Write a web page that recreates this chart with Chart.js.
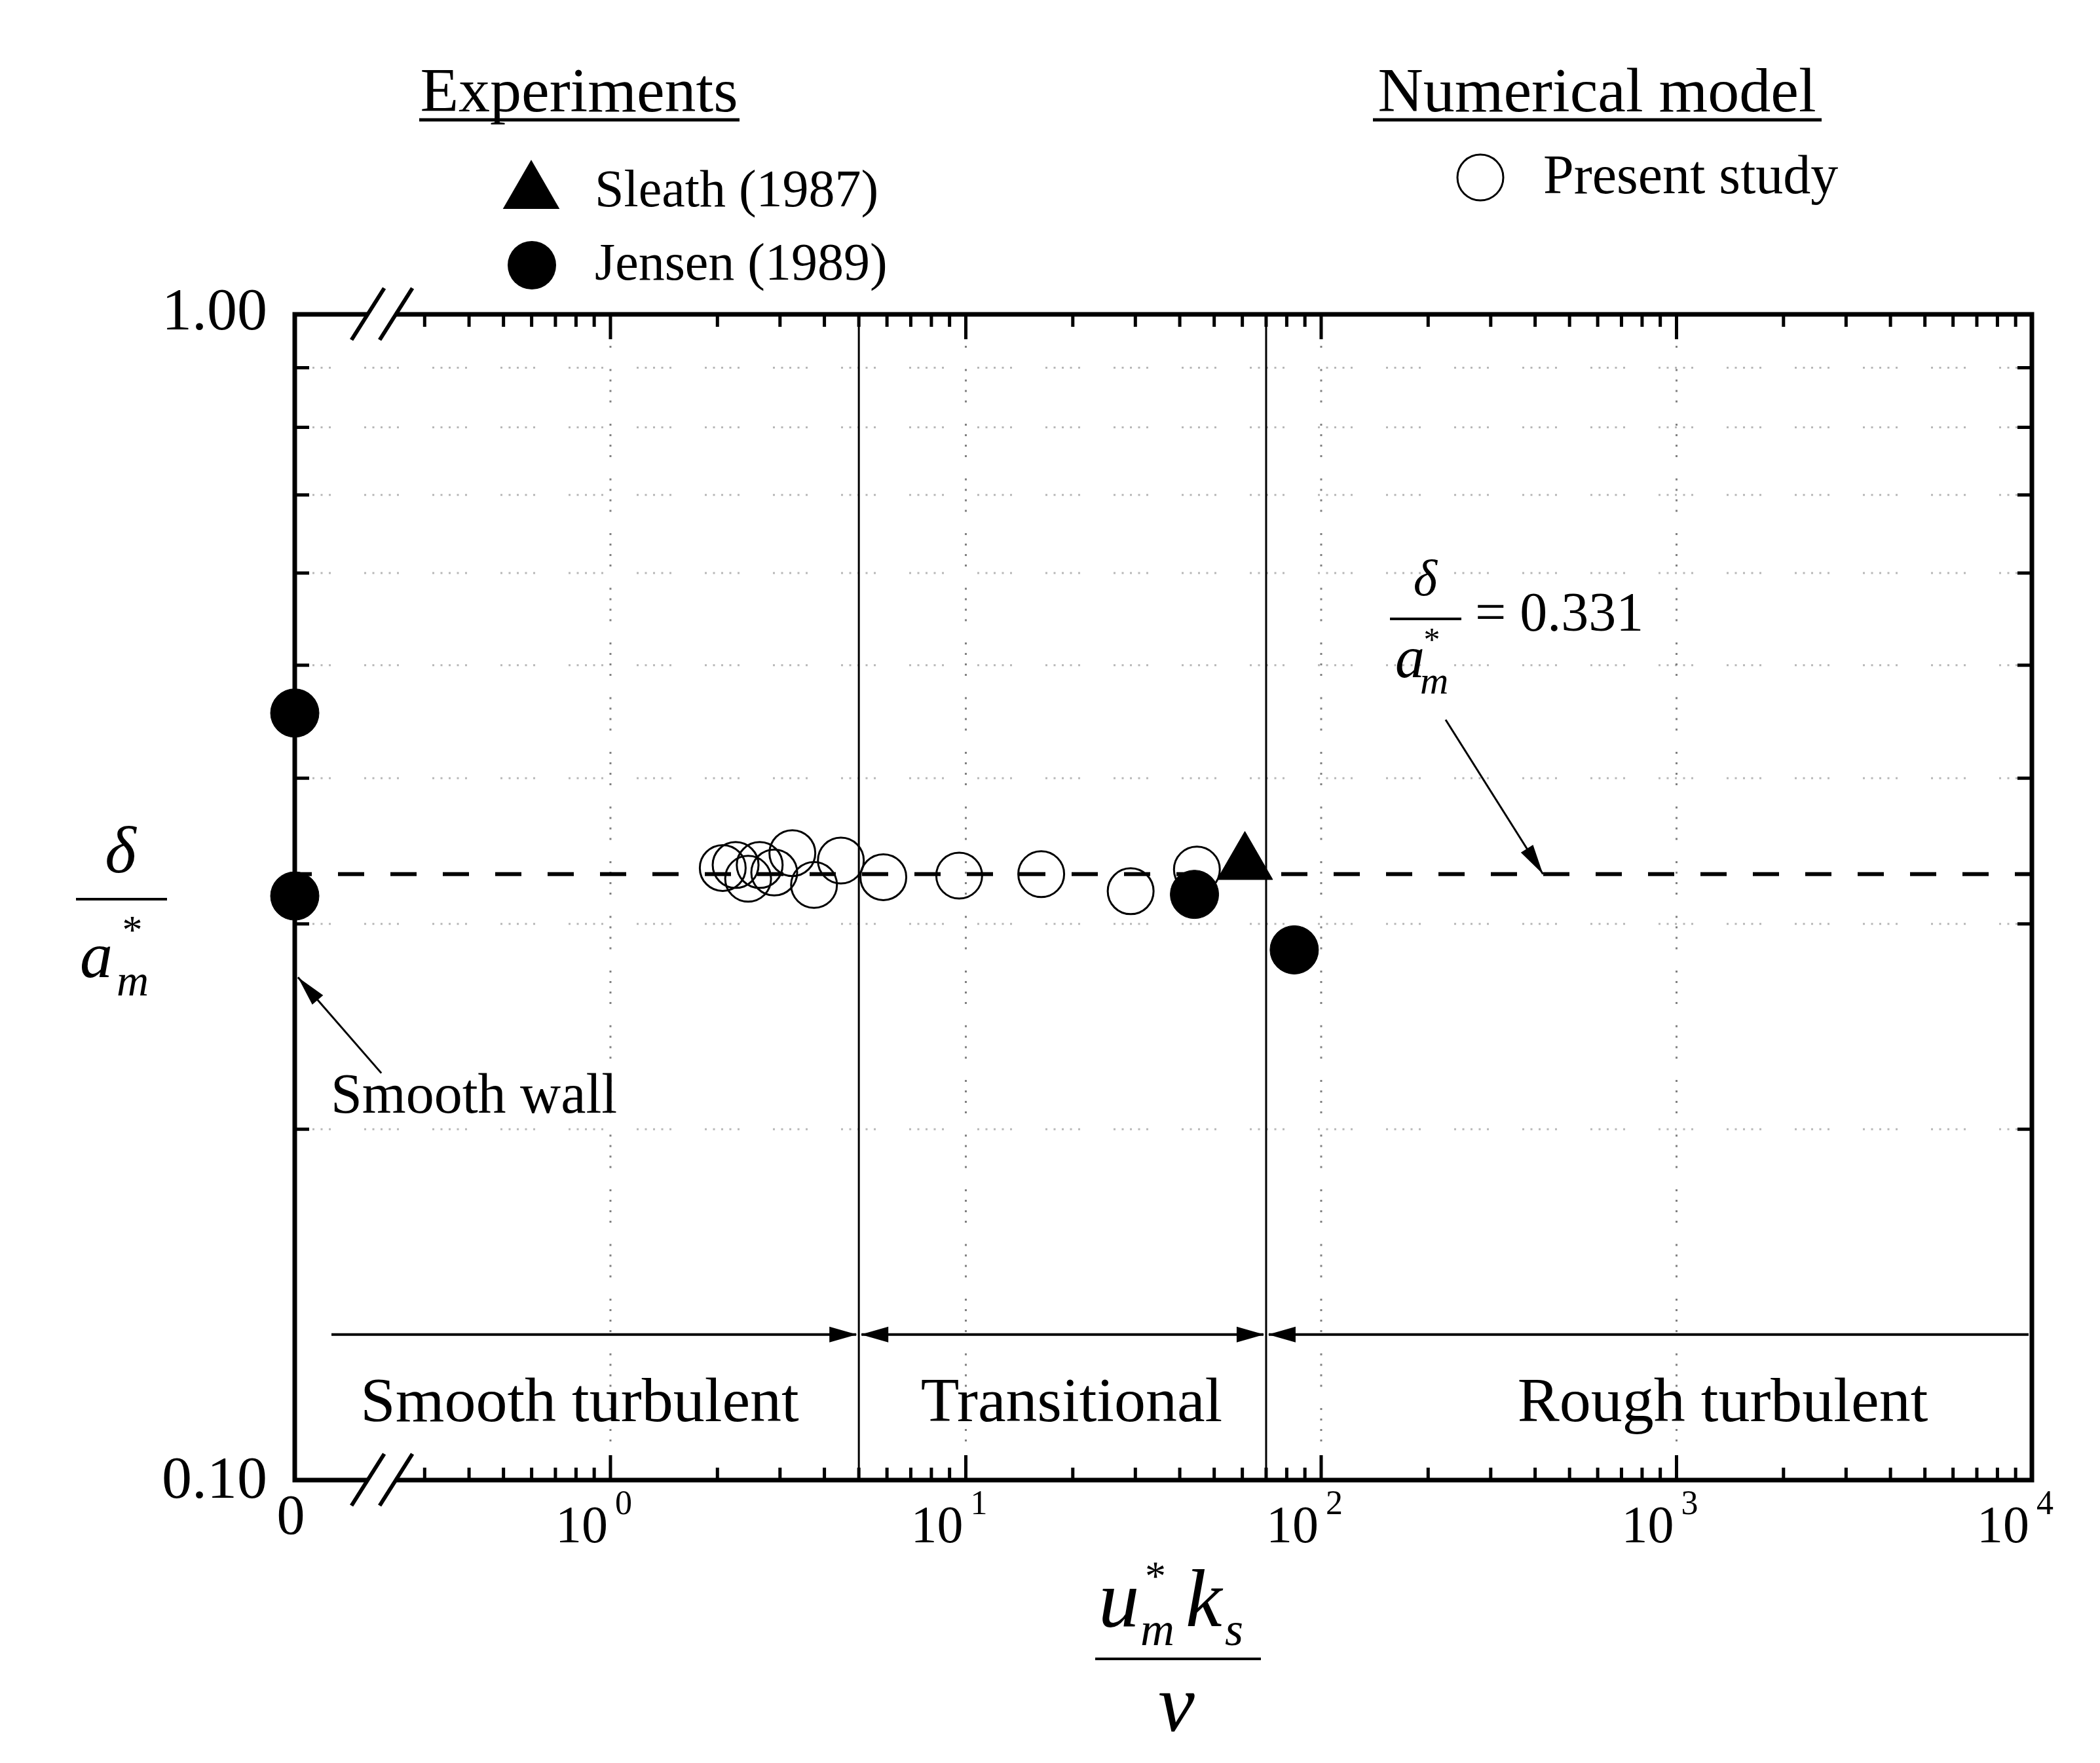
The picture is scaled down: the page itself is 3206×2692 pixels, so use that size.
<!DOCTYPE html>
<html>
<head>
<meta charset="utf-8">
<script src="https://cdn.jsdelivr.net/npm/chart.js@4.4.0/dist/chart.umd.min.js"></script>
<style>
  html, body { margin: 0; padding: 0; background: #fff; }
  canvas { display: block; }
</style>
</head>
<body>
<canvas id="chart" width="3206" height="2692"></canvas>
<script>
// Values: x = u*_m k_s / nu, y = delta / a*_m
const presentX = [2.07, 2.25, 2.44, 2.63, 2.89, 3.25, 3.74, 4.45, 5.86, 9.58, 16.3, 29.1, 44.7];
const presentY = [0.335, 0.337, 0.328, 0.337, 0.332, 0.345, 0.324, 0.340, 0.329, 0.330, 0.331, 0.320, 0.334];
const sleathX = [61];
const sleathY = [0.338];
const jensenX = [0, 0, 44, 84];   // 0 = smooth wall, sits on the broken left edge
const jensenY = [0.455, 0.317, 0.318, 0.285];
const fitValue = 0.331;
const regimeBounds = [5, 70];
const regimeLabels = ['Smooth turbulent', 'Transitional', 'Rough turbulent'];
const xDecades = [0, 1, 2, 3, 4];
const yTickLabels = ['0.10', '1.00'];
const yMinor = [0.2, 0.3, 0.4, 0.5, 0.6, 0.7, 0.8, 0.9];

// left edge of the log axis, where "0" is drawn after the break
const X_MIN = 0.1293;
const xOf = v => (v === 0 ? X_MIN : v);
const pts = (xs, ys) => xs.map((v, i) => ({ x: xOf(v), y: ys[i] }));

const FONT = '"Liberation Serif", "Times New Roman", serif';
function txt(ctx, s, x, y, size, opts = {}) {
  ctx.font = (opts.italic ? 'italic ' : '') + size + 'px ' + FONT;
  ctx.textAlign = opts.align || 'left';
  ctx.textBaseline = 'alphabetic';
  ctx.fillStyle = '#000';
  ctx.fillText(s, x, y);
}

function arrowHead(ctx, x1, y1, x2, y2, len, half) {
  const a = Math.atan2(y2 - y1, x2 - x1);
  const bx = x2 - len * Math.cos(a), by = y2 - len * Math.sin(a);
  ctx.beginPath();
  ctx.moveTo(x2, y2);
  ctx.lineTo(bx + half * Math.sin(a), by - half * Math.cos(a));
  ctx.lineTo(bx - half * Math.sin(a), by + half * Math.cos(a));
  ctx.closePath();
  ctx.fill();
}

// Grid, frame, ticks, break marks, labels and annotations
const decor = {
  id: 'decor',
  beforeDatasetsDraw(chart) {
    const { ctx, chartArea: a, scales: { x, y } } = chart;
    ctx.save();
    ctx.lineWidth = 3;
    // horizontal dotted grid
    ctx.strokeStyle = '#b8b8b8';
    ctx.setLineDash([3, 9.5, 3, 9.5, 3, 9.5, 3, 9.5, 3, 51]);
    yMinor.forEach(v => {
      const py = y.getPixelForValue(v);
      ctx.beginPath(); ctx.moveTo(a.left + 2, py); ctx.lineTo(a.right, py); ctx.stroke();
    });
    // vertical dotted grid on the decades
    ctx.strokeStyle = '#808080';
    ctx.setLineDash([3, 13, 3, 13, 3, 13, 3, 32.5]);
    xDecades.slice(0, 4).forEach(d => {
      const px = x.getPixelForValue(Math.pow(10, d));
      ctx.beginPath(); ctx.moveTo(px, a.top); ctx.lineTo(px, a.bottom); ctx.stroke();
    });
    ctx.restore();
  },
  afterDatasetsDraw(chart) {
    const { ctx, chartArea: a, scales: { x, y } } = chart;
    ctx.save();
    ctx.setLineDash([]);
    ctx.strokeStyle = '#000';
    ctx.fillStyle = '#000';

    // frame
    ctx.lineWidth = 7;
    ctx.strokeRect(a.left, a.top, a.right - a.left, a.bottom - a.top);

    // x ticks (inward, top and bottom)
    ctx.lineWidth = 5;
    for (let d = -1; d <= 3; d++) {
      for (let m = 1; m <= 9; m++) {
        const v = m * Math.pow(10, d);
        if (v < X_MIN * 1.05 || (d === -1 && m === 2)) continue;
        const px = x.getPixelForValue(v);
        const len = m === 1 ? 38 : 19;
        ctx.beginPath();
        ctx.moveTo(px, a.top); ctx.lineTo(px, a.top + len);
        ctx.moveTo(px, a.bottom); ctx.lineTo(px, a.bottom - len);
        ctx.stroke();
      }
    }
    // y ticks (inward, left and right)
    yMinor.forEach(v => {
      const py = y.getPixelForValue(v);
      ctx.beginPath();
      ctx.moveTo(a.left, py); ctx.lineTo(a.left + 22, py);
      ctx.moveTo(a.right, py); ctx.lineTo(a.right - 22, py);
      ctx.stroke();
    });

    // axis break marks
    const bx = x.getPixelForValue(0.227);
    [a.top, a.bottom].forEach(ay => {
      ctx.fillStyle = '#fff';
      ctx.fillRect(bx - 21, ay - 5, 42, 10);
      ctx.fillStyle = '#000';
      ctx.lineWidth = 6;
      [-21, 22].forEach(o => {
        ctx.beginPath();
        ctx.moveTo(bx + o - 25, ay + 39);
        ctx.lineTo(bx + o + 25, ay - 40);
        ctx.stroke();
      });
    });

    // x tick labels
    txt(ctx, '0', a.left - 6, a.bottom + 82, 86, { align: 'center' });
    xDecades.forEach(d => {
      const px = x.getPixelForValue(Math.pow(10, d));
      txt(ctx, '10', px - 4, a.bottom + 95, 80, { align: 'right' });
      txt(ctx, String(d), px + 7, a.bottom + 52, 52);
    });
    // y tick labels
    txt(ctx, yTickLabels[1], a.left - 42, y.getPixelForValue(1) + 23, 92, { align: 'right' });
    txt(ctx, yTickLabels[0], a.left - 42, y.getPixelForValue(0.1) + 27, 92, { align: 'right' });

    // regime arrows
    const ry = y.getPixelForValue(0.1333);
    const b1 = x.getPixelForValue(regimeBounds[0]);
    const b2 = x.getPixelForValue(regimeBounds[1]);
    const rs = x.getPixelForValue(0.164);
    ctx.lineWidth = 4;
    ctx.beginPath();
    ctx.moveTo(rs, ry); ctx.lineTo(b1 - 4, ry);
    ctx.moveTo(b1 + 4, ry); ctx.lineTo(b2 - 4, ry);
    ctx.moveTo(b2 + 4, ry); ctx.lineTo(a.right - 5, ry);
    ctx.stroke();
    arrowHead(ctx, b1 - 50, ry, b1 - 3, ry, 42, 12);
    arrowHead(ctx, b1 + 50, ry, b1 + 3, ry, 42, 12);
    arrowHead(ctx, b2 - 50, ry, b2 - 3, ry, 42, 12);
    arrowHead(ctx, b2 + 50, ry, b2 + 3, ry, 42, 12);
    const labY = a.bottom - 90;
    txt(ctx, regimeLabels[0], 885, labY, 96, { align: 'center' });
    txt(ctx, regimeLabels[1], 1636, labY, 96, { align: 'center' });
    txt(ctx, regimeLabels[2], 2630, labY, 96, { align: 'center' });

    // "Smooth wall" note
    ctx.lineWidth = 3;
    const sw0 = [x.getPixelForValue(0.2266), y.getPixelForValue(0.2234)];
    const sw1 = [x.getPixelForValue(0.132), y.getPixelForValue(0.27)];
    ctx.beginPath(); ctx.moveTo(sw0[0], sw0[1]); ctx.lineTo(sw1[0], sw1[1]); ctx.stroke();
    arrowHead(ctx, sw0[0], sw0[1], sw1[0], sw1[1], 46, 11);
    txt(ctx, 'Smooth wall', 505, 1699, 86);

    // delta / a*_m = 0.331 note
    const fa0 = [x.getPixelForValue(224), y.getPixelForValue(0.449)];
    const fa1 = [x.getPixelForValue(421), y.getPixelForValue(fitValue)];
    ctx.beginPath(); ctx.moveTo(fa0[0], fa0[1]); ctx.lineTo(fa1[0], fa1[1]); ctx.stroke();
    arrowHead(ctx, fa0[0], fa0[1], fa1[0], fa1[1], 46, 11);
    txt(ctx, '\u03B4', 2176, 909, 78, { italic: true, align: 'center' });
    ctx.lineWidth = 4;
    ctx.beginPath(); ctx.moveTo(2122, 945); ctx.lineTo(2231, 945); ctx.stroke();
    txt(ctx, '*', 2186, 993, 50, { align: 'center' });
    txt(ctx, 'a', 2130, 1034, 90, { italic: true });
    txt(ctx, 'm', 2168, 1059, 60, { italic: true });
    txt(ctx, '= ' + fitValue.toFixed(3), 2252, 963, 84);

    // y axis title
    txt(ctx, '\u03B4', 184, 1332, 102, { italic: true, align: 'center' });
    ctx.beginPath(); ctx.moveTo(116, 1373); ctx.lineTo(255, 1373); ctx.stroke();
    txt(ctx, '*', 202, 1440, 62, { align: 'center' });
    txt(ctx, 'a', 122, 1492, 100, { italic: true });
    txt(ctx, 'm', 178, 1520, 68, { italic: true });

    // x axis title
    txt(ctx, 'u', 1677, 2484, 125, { italic: true });
    txt(ctx, '*', 1764, 2428, 64, { align: 'center' });
    txt(ctx, 'm', 1741, 2512, 72, { italic: true });
    txt(ctx, 'k', 1810, 2483, 125, { italic: true });
    txt(ctx, 's', 1870, 2512, 72, { italic: true });
    ctx.beginPath(); ctx.moveTo(1672, 2533); ctx.lineTo(1925, 2533); ctx.stroke();
    txt(ctx, '\u03BD', 1796, 2643, 125, { italic: true, align: 'center' });

    // legend
    txt(ctx, 'Experiments', 884, 170, 96, { align: 'center' });
    txt(ctx, 'Numerical model', 2438, 170, 96, { align: 'center' });
    ctx.lineWidth = 5;
    ctx.beginPath();
    ctx.moveTo(640, 183); ctx.lineTo(1129, 183);
    ctx.moveTo(2096, 183); ctx.lineTo(2781, 183);
    ctx.stroke();
    // triangle marker (same shape as chart.js 'triangle')
    const tr = 50, tx = 811, ty = 294;
    ctx.beginPath();
    ctx.moveTo(tx, ty - tr);
    ctx.lineTo(tx + tr * Math.sin(2 * Math.PI / 3), ty + tr / 2);
    ctx.lineTo(tx - tr * Math.sin(2 * Math.PI / 3), ty + tr / 2);
    ctx.closePath(); ctx.fill();
    txt(ctx, 'Sleath (1987)', 908, 315, 80);
    ctx.beginPath(); ctx.arc(812, 405, 37, 0, 2 * Math.PI); ctx.fill();
    txt(ctx, 'Jensen (1989)', 908, 427, 80);
    ctx.lineWidth = 3;
    ctx.beginPath(); ctx.arc(2260, 271, 35, 0, 2 * Math.PI); ctx.stroke();
    txt(ctx, 'Present study', 2356, 295, 84);

    ctx.restore();
  }
};

new Chart(document.getElementById('chart'), {
  type: 'scatter',
  data: {
    datasets: [
      {
        label: 'fit',
        data: [{ x: X_MIN, y: fitValue }, { x: 1e4, y: fitValue }],
        showLine: true,
        borderColor: '#000',
        borderWidth: 6,
        borderDash: [40, 40],
        borderDashOffset: 14,
        pointRadius: 0,
        clip: false
      },
      ...regimeBounds.map(b => ({
        label: 'bound',
        data: [{ x: b, y: 0.1 }, { x: b, y: 1 }],
        showLine: true,
        borderColor: '#000',
        borderWidth: 3,
        pointRadius: 0
      })),
      {
        label: 'Present study',
        data: pts(presentX, presentY),
        pointStyle: 'circle',
        pointRadius: 35,
        pointBorderWidth: 3,
        pointBorderColor: '#000',
        pointBackgroundColor: 'rgba(0,0,0,0)',
        clip: false
      },
      {
        label: 'Sleath (1987)',
        data: pts(sleathX, sleathY),
        pointStyle: 'triangle',
        pointRadius: 49,
        pointBorderWidth: 1,
        pointBorderColor: '#000',
        pointBackgroundColor: '#000',
        clip: false
      },
      {
        label: 'Jensen (1989)',
        data: pts(jensenX, jensenY),
        pointStyle: 'circle',
        pointRadius: 37,
        pointBorderWidth: 1,
        pointBorderColor: '#000',
        pointBackgroundColor: '#000',
        clip: false
      }
    ]
  },
  options: {
    responsive: false,
    devicePixelRatio: 1,
    animation: false,
    events: [],
    layout: { padding: { left: 450, top: 480, right: 104, bottom: 432 } },
    scales: {
      x: { type: 'logarithmic', min: X_MIN, max: 1e4, display: false },
      y: { type: 'logarithmic', min: 0.1, max: 1, display: false }
    },
    plugins: { legend: { display: false }, tooltip: { enabled: false } }
  },
  plugins: [decor]
});
</script>
</body>
</html>
